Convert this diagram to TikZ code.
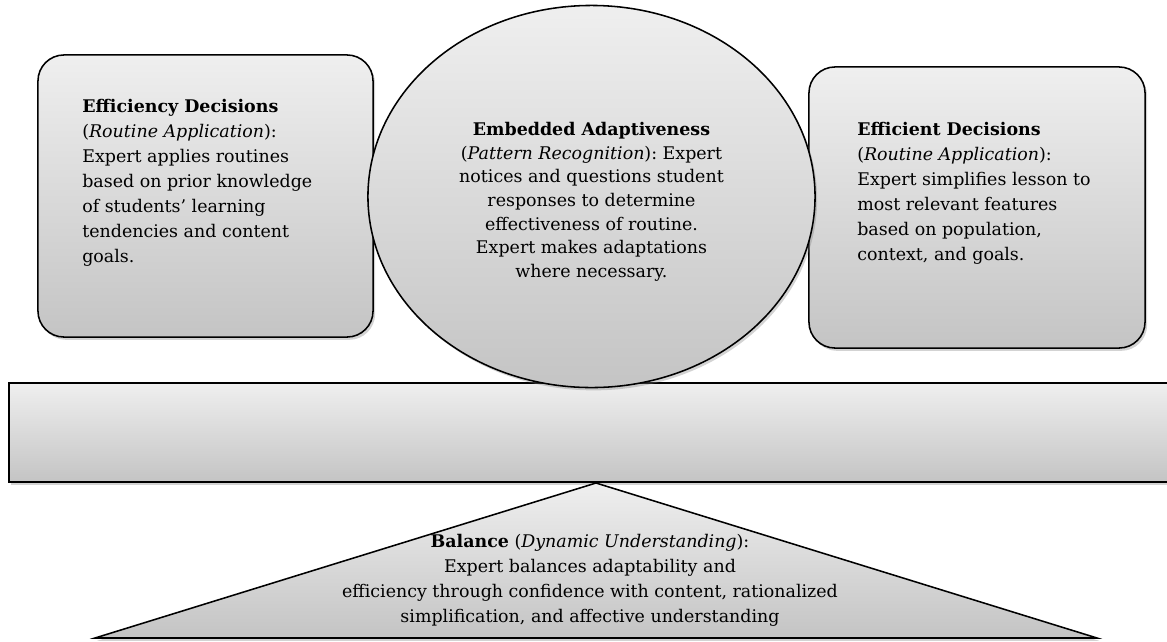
\documentclass[tikz,border=0pt]{standalone}
\usepackage{fontspec}
\setmainfont{DejaVu Serif}
\usetikzlibrary{shapes.geometric,shadows}
\definecolor{paneltop}{HTML}{EFEFEF}
\definecolor{panelbot}{HTML}{C4C4C4}
\frenchspacing
\begin{document}
\begin{tikzpicture}[x=0.025cm, y=-0.025cm,
	panel/.style={draw=black, line width=1.1pt, inner sep=0pt, top color=paneltop, bottom color=panelbot,
		drop shadow={shadow xshift=1.5pt, shadow yshift=-2pt, opacity=0.35}},
	decbox/.style={panel, rectangle, rounded corners=0.65cm},
	txt/.style={inner sep=0pt, font=\fontsize{12.4}{17.8}\selectfont}]
	\useasboundingbox (0,0) rectangle (1167,641);
	\node[panel, rectangle, minimum width=29.4cm, minimum height=2.475cm] (beam) at (597,432.5) {};
	\node[decbox, minimum width=8.375cm, minimum height=7.05cm] (leftdec) at (205.5,196) {};
	\node[decbox, minimum width=8.4cm, minimum height=7.025cm] (rightdec) at (977,207.5) {};
	\node[panel, ellipse, minimum width=11.175cm, minimum height=9.55cm] (adapt) at (591.5,196.5) {};
	\coordinate (apex) at (596,483);
	\coordinate (baseL) at (95,638);
	\coordinate (baseR) at (1097,638);
	\draw[panel] (apex) -- (baseR) -- (baseL) -- cycle;
	\node[txt, anchor=north west, align=left] (lefttxt) at (82,99) {\textbf{Efficiency Decisions}\\(\textit{Routine Application}):\\Expert applies routines\\based on prior knowledge\\of students’ learning\\tendencies and content\\goals.};
	\node[txt, anchor=north west, align=left] (righttxt) at (857,122) {\textbf{Efficient Decisions}\\(\textit{Routine Application}):\\Expert simplifies lesson to\\most relevant features\\based on population,\\context, and goals.};
	\node[txt, anchor=north, align=center, font=\fontsize{12.4}{16.8}\selectfont] (adapttxt) at (adapt.center |- 0,122) {\textbf{Embedded Adaptiveness}\\(\textit{Pattern Recognition}): Expert\\notices and questions student\\responses to determine\\effectiveness of routine.\\Expert makes adaptations\\where necessary.};
	\node[txt, anchor=north, align=center] (baltxt) at (590,534) {\textbf{Balance} (\textit{Dynamic Understanding}):\\Expert balances adaptability and\\efficiency through confidence with content, rationalized\\simplification, and affective understanding};
\end{tikzpicture}
\end{document}
